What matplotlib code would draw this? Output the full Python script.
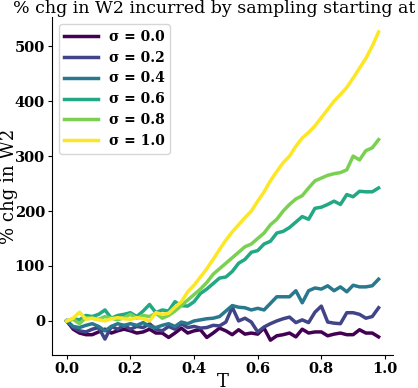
import matplotlib
matplotlib.use('Agg')
import matplotlib.pyplot as plt
import numpy as np

plt.rcParams['font.family'] = ['DejaVu Serif']

# T values (starting point of sampling)
T = np.arange(50) * 0.02

sigmas = [0.0, 0.2, 0.4, 0.6, 0.8, 1.0]

chg_s00 = [0, -15, -22, -25, -25, -20, -15, -22, -18, -15,
           -18, -22, -20, -15, -22, -22, -30, -22, -13, -22,
           -18, -16, -30, -22, -13, -18, -25, -16, -24, -22,
           -24, -13, -35, -27, -25, -22, -29, -15, -22, -20,
           -20, -27, -24, -22, -25, -25, -16, -22, -22, -29]
chg_s02 = [0, -12, -18, -20, -15, -12, -33, -10, -15, -8,
           -15, -10, -12, -5, -15, -18, -10, -15, -5, -12,
           -10, -13, -12, -8, -9, -2, 25, 0, 5, -2,
           -20, -11, -5, 0, 4, 7, -3, 2, -3, 16,
           27, -2, -4, -5, 15, 15, 12, 5, 8, 24]
chg_s04 = [0, -10, -12, -8, -5, -10, -18, -10, -5, -8,
           -5, -8, -3, -10, -12, -8, -5, -10, -2, -5,
           0, 2, 4, 5, 8, 18, 28, 25, 24, 20,
           23, 20, 32, 44, 44, 44, 55, 33, 55, 60,
           58, 64, 55, 62, 53, 65, 62, 62, 64, 76]
chg_s06 = [0, 4, 2, 10, 8, 12, 20, 5, 10, 12,
           15, 8, 18, 30, 15, 20, 18, 35, 28, 27,
           35, 50, 58, 68, 78, 80, 90, 105, 112, 125,
           128, 140, 145, 160, 163, 170, 180, 190, 185, 205,
           207, 212, 218, 212, 230, 226, 236, 235, 235, 242]
chg_s08 = [0, 3, -5, 6, 5, 3, 8, 5, 2, 6,
           12, 5, 10, 8, 14, 5, 10, 18, 28, 38,
           48, 58, 70, 85, 95, 105, 115, 125, 135, 140,
           150, 160, 175, 185, 200, 212, 222, 228, 242, 255,
           260, 265, 268, 270, 275, 300, 293, 310, 315, 330]
chg_s10 = [0, 5, 16, 3, 5, 2, 0, 4, 6, 4,
           3, 6, 4, 0, 15, 12, 14, 25, 35, 53,
           65, 80, 95, 112, 130, 147, 162, 175, 188, 200,
           218, 235, 255, 272, 288, 300, 318, 333, 343, 355,
           370, 385, 400, 412, 425, 442, 460, 478, 500, 526]

series = [chg_s00, chg_s02, chg_s04, chg_s06, chg_s08, chg_s10]
colors = plt.cm.viridis(np.linspace(0, 1, len(sigmas)))

fig = plt.figure(figsize=(4.18, 3.88), dpi=100)
ax = fig.add_axes([0.124, 0.085, 0.816, 0.871])

for s, vals, c in zip(sigmas, series, colors):
    ax.plot(T, vals, color=c, lw=2.5, label=f'σ = {s:.1f}')

ax.set_xlim(-0.047, 1.025)
ax.set_ylim(-62, 553)
ax.set_xticks([0.0, 0.2, 0.4, 0.6, 0.8, 1.0])
ax.set_yticks([0, 100, 200, 300, 400, 500])
for lab in ax.get_xticklabels() + ax.get_yticklabels():
    lab.set_fontweight('bold')
ax.tick_params(labelsize=10.5, length=3, pad=2)

ax.spines['top'].set_visible(False)
ax.spines['right'].set_visible(False)

ax.set_xlabel('T', fontsize=13, labelpad=-2)
ax.set_ylabel('% chg in W2', fontsize=13)
ax.yaxis.set_label_coords(-0.1, 0.5)
ax.set_title('% chg in W2 incurred by sampling starting at T', fontsize=12.5, pad=2)

ax.legend(loc='upper left', prop={'weight': 'bold', 'size': 10},
          handlelength=2.4, borderaxespad=0.5)

fig.savefig('out.png', dpi=100)
